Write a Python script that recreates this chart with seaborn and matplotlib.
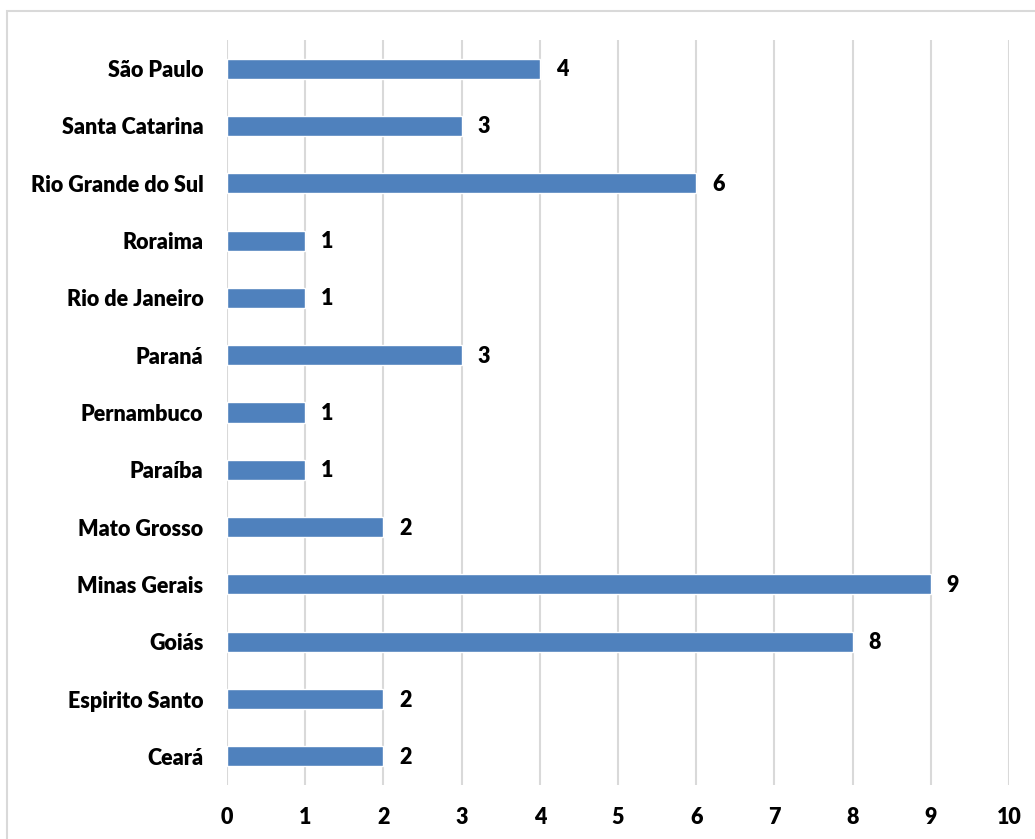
import matplotlib
matplotlib.use("Agg")
import matplotlib.pyplot as plt
import seaborn as sns
import pandas as pd
from matplotlib.patches import Rectangle

states = ["São Paulo", "Santa Catarina", "Rio Grande do Sul", "Roraima",
          "Rio de Janeiro", "Paraná", "Pernambuco", "Paraíba", "Mato Grosso",
          "Minas Gerais", "Goiás", "Espirito Santo", "Ceará"]
counts = [4, 3, 6, 1, 1, 3, 1, 1, 2, 9, 8, 2, 2]
xticks = [0, 1, 2, 3, 4, 5, 6, 7, 8, 9, 10]

df = pd.DataFrame({"state": states, "count": counts})

sns.set_theme(style="white")
plt.rcParams["font.family"] = ["Lato", "DejaVu Sans"]

FS = 15.5
WT = "heavy"
W, H = 1035, 839
fig = plt.figure(figsize=(W / 100, H / 100), dpi=100)
ax = fig.add_axes([227 / W, 1 - 785 / H, (1009 - 227) / W, (785 - 40) / H])

sns.barplot(data=df, y="state", x="count", orient="h", color="#4F81BD",
            saturation=1, width=0.35, ax=ax, order=states)

ax.set_xlim(0, 10)
ax.set_ylim(len(states) - 0.5, -0.5)
ax.set_xticks(xticks)
ax.set_xticklabels([str(t) for t in xticks], fontsize=FS, fontweight=WT, color="black")
ax.set_yticklabels(states, fontsize=FS, fontweight=WT, color="black")
ax.tick_params(axis="y", length=0, pad=17)
ax.tick_params(axis="x", length=0, pad=16)
ax.set_xlabel("")
ax.set_ylabel("")
ax.grid(axis="x", color="#D9D9D9", linewidth=1.5)
ax.set_axisbelow(True)
for s in ax.spines.values():
    s.set_visible(False)

for i, v in enumerate(counts):
    ax.annotate(str(v), xy=(v, i), xytext=(16, -1), textcoords="offset pixels",
                va="center", ha="left", fontsize=FS, fontweight=WT, color="black")

fig.patches.append(Rectangle((7 / W, -0.1), 1.2, 1 - 11 / H + 0.1, transform=fig.transFigure,
                             fill=False, edgecolor="#D9D9D9", linewidth=1.5, figure=fig))

fig.savefig("out.png", dpi=100)
